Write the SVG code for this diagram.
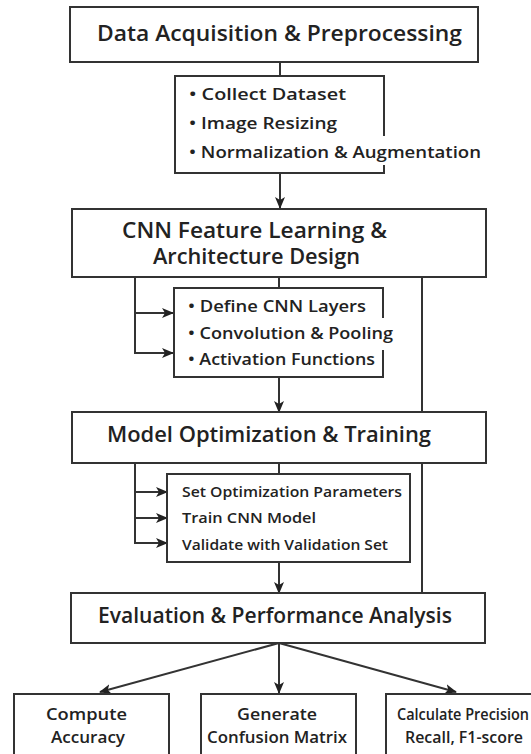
<svg xmlns="http://www.w3.org/2000/svg" width="531" height="754" viewBox="0 0 531 754">
<defs>
<style>
.box{fill:#fff;stroke:#333;stroke-width:2}
.edge{fill:none;stroke:#333;stroke-width:2}
.t{font-family:"Open Sans","Noto Sans","Liberation Sans",sans-serif;fill:#222}
.h{font-size:21px;font-weight:600}
.b{font-size:16.5px;font-weight:600}
.s{font-size:15px;font-weight:600}
.f{font-size:16.5px;font-weight:600}
</style>
<marker id="ah" markerUnits="userSpaceOnUse" markerWidth="12" markerHeight="10" refX="11" refY="5" orient="auto">
<path d="M0,0 L12,5 L0,10 L3,5 z" fill="#222"/>
</marker>
</defs>
<rect width="531" height="754" fill="#fff"/>
<g id="connectors">
<line class="edge" x1="280" y1="62" x2="280" y2="76"/>
<line class="edge" x1="280" y1="173" x2="280" y2="208" marker-end="url(#ah)"/>
<line class="edge" x1="279" y1="277" x2="279" y2="288"/>
<path class="edge" d="M135,277 V353 H173" marker-end="url(#ah)"/>
<line class="edge" x1="135" y1="313" x2="173" y2="313" marker-end="url(#ah)"/>
<line class="edge" x1="422" y1="277" x2="422" y2="593"/>
<line class="edge" x1="279" y1="377" x2="279" y2="412" marker-end="url(#ah)"/>
<line class="edge" x1="279" y1="463" x2="279" y2="474"/>
<path class="edge" d="M135,463 V543 H167" marker-end="url(#ah)"/>
<line class="edge" x1="135" y1="492" x2="167" y2="492" marker-end="url(#ah)"/>
<line class="edge" x1="135" y1="518" x2="167" y2="518" marker-end="url(#ah)"/>
<line class="edge" x1="279" y1="562" x2="279" y2="593" marker-end="url(#ah)"/>
<line class="edge" x1="279" y1="643" x2="100" y2="692" marker-end="url(#ah)"/>
<line class="edge" x1="279" y1="643" x2="279" y2="693" marker-end="url(#ah)"/>
<line class="edge" x1="279" y1="643" x2="456" y2="692" marker-end="url(#ah)"/>
</g>
<g id="n1">
<rect class="box" x="70" y="7" width="408" height="55"/>
<text class="t h" x="97" y="41" textLength="365" lengthAdjust="spacingAndGlyphs">Data Acquisition &amp; Preprocessing</text>
</g>
<g id="n2">
<rect x="175" y="76" width="209" height="97" fill="#fff"/>
<path class="edge" d="M384,136 V76 H175 V173 H384 V165"/>
<text class="t b" x="189" y="100" textLength="157" lengthAdjust="spacingAndGlyphs">• Collect Dataset</text>
<text class="t b" x="189" y="129" textLength="148" lengthAdjust="spacingAndGlyphs">• Image Resizing</text>
<text class="t b" x="189" y="158" textLength="292" lengthAdjust="spacingAndGlyphs">• Normalization &amp; Augmentation</text>
</g>
<g id="n3">
<rect class="box" x="72" y="209" width="414" height="68"/>
<text class="t h" x="122" y="238" textLength="265" lengthAdjust="spacingAndGlyphs">CNN Feature Learning &amp;</text>
<text class="t h" x="153" y="264" textLength="207" lengthAdjust="spacingAndGlyphs">Architecture Design</text>
</g>
<g id="n4">
<rect x="174" y="288" width="209" height="89" fill="#fff"/>
<path class="edge" d="M383,318 V288 H174 V377 H383 V350"/>
<text class="t b" x="188" y="312" textLength="178" lengthAdjust="spacingAndGlyphs">• Define CNN Layers</text>
<text class="t b" x="188" y="339" textLength="205" lengthAdjust="spacingAndGlyphs">• Convolution &amp; Pooling</text>
<text class="t b" x="188" y="365" textLength="187" lengthAdjust="spacingAndGlyphs">• Activation Functions</text>
</g>
<g id="n5">
<rect class="box" x="72" y="412" width="414" height="51"/>
<text class="t h" x="107" y="442" textLength="324" lengthAdjust="spacingAndGlyphs">Model Optimization &amp; Training</text>
</g>
<g id="n6">
<rect class="box" x="167" y="474" width="243" height="88"/>
<text class="t s" x="182" y="497" textLength="220" lengthAdjust="spacingAndGlyphs">Set Optimization Parameters</text>
<text class="t s" x="182" y="523" textLength="134" lengthAdjust="spacingAndGlyphs">Train CNN Model</text>
<text class="t s" x="182" y="550" textLength="206" lengthAdjust="spacingAndGlyphs">Validate with Validation Set</text>
</g>
<g id="n7">
<rect class="box" x="71" y="593" width="414" height="50"/>
<text class="t h" x="98" y="623" textLength="354" lengthAdjust="spacingAndGlyphs">Evaluation &amp; Performance Analysis</text>
</g>
<g id="n8">
<rect class="box" x="14" y="694" width="155" height="70"/>
<text class="t f" x="46" y="720" textLength="81" lengthAdjust="spacingAndGlyphs">Compute</text>
<text class="t f" x="51" y="743" textLength="74" lengthAdjust="spacingAndGlyphs">Accuracy</text>
</g>
<g id="n9">
<rect class="box" x="201" y="694" width="155" height="70"/>
<text class="t f" x="237" y="720" textLength="80" lengthAdjust="spacingAndGlyphs">Generate</text>
<text class="t f" x="207" y="743" textLength="140" lengthAdjust="spacingAndGlyphs">Confusion Matrix</text>
</g>
<g id="n10">
<rect class="box" x="386" y="694" width="160" height="70"/>
<text class="t f" x="397" y="720" textLength="132" lengthAdjust="spacingAndGlyphs">Calculate Precision</text>
<text class="t f" x="405" y="743" textLength="118" lengthAdjust="spacingAndGlyphs">Recall, F1-score</text>
</g>
</svg>
